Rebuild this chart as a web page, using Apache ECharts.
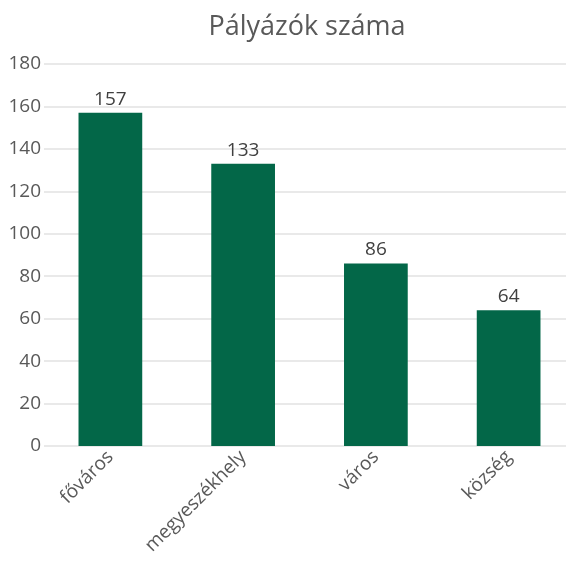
<!DOCTYPE html>
<html>
<head>
<meta charset="utf-8">
<script src="https://cdn.jsdelivr.net/npm/echarts@6/dist/echarts.min.js"></script>
<style>
  html, body { margin: 0; padding: 0; background: #fff; overflow: hidden; }
  /* a rács a jobb szélen túlnyúlik, ezért szélesebb a vászon */
  #chart { width: 575px; height: 561px; }
</style>
</head>
<body>
<div id="chart"></div>
<script>
// adatok
const categories = ["főváros", "megyeszékhely", "város", "község"];
const applicants = [157, 133, 86, 64];
const yTicks = [0, 20, 40, 60, 80, 100, 120, 140, 160, 180];

const font = "'Open Sans', 'Noto Sans', sans-serif";

const myChart = echarts.init(document.getElementById("chart"));

const option = {
  animation: false,
  title: {
    text: "Pályázók száma",
    left: 302,
    top: 9,
    textAlign: "center",
    textStyle: {
      fontFamily: font,
      fontSize: 27,
      fontWeight: "normal",
      color: "#595959",
    },
  },
  grid: {
    left: 44,
    right: 0,
    top: 64,
    bottom: 115,
    containLabel: false,
  },
  xAxis: {
    type: "category",
    data: categories,
    axisLine: { show: false },
    axisTick: { show: false },
    axisLabel: {
      rotate: 45,
      margin: 8,
      fontFamily: font,
      fontSize: 19,
      color: "#595959",
    },
  },
  yAxis: {
    type: "value",
    min: yTicks[0],
    max: yTicks[yTicks.length - 1],
    interval: yTicks[1] - yTicks[0],
    axisLine: { show: false },
    axisTick: { show: false },
    splitLine: { lineStyle: { color: "#e2e2e2", width: 1.5 } },
    axisLabel: {
      margin: 3,
      fontFamily: font,
      fontSize: 19,
      color: "#595959",
    },
  },
  series: [
    {
      name: "Pályázók száma",
      type: "bar",
      data: applicants,
      barWidth: "48%",
      itemStyle: { color: "#036748" },
      label: {
        show: true,
        position: "top",
        distance: 4,
        fontFamily: font,
        fontSize: 19,
        color: "#404040",
      },
    },
  ],
};

myChart.setOption(option);
</script>
</body>
</html>
